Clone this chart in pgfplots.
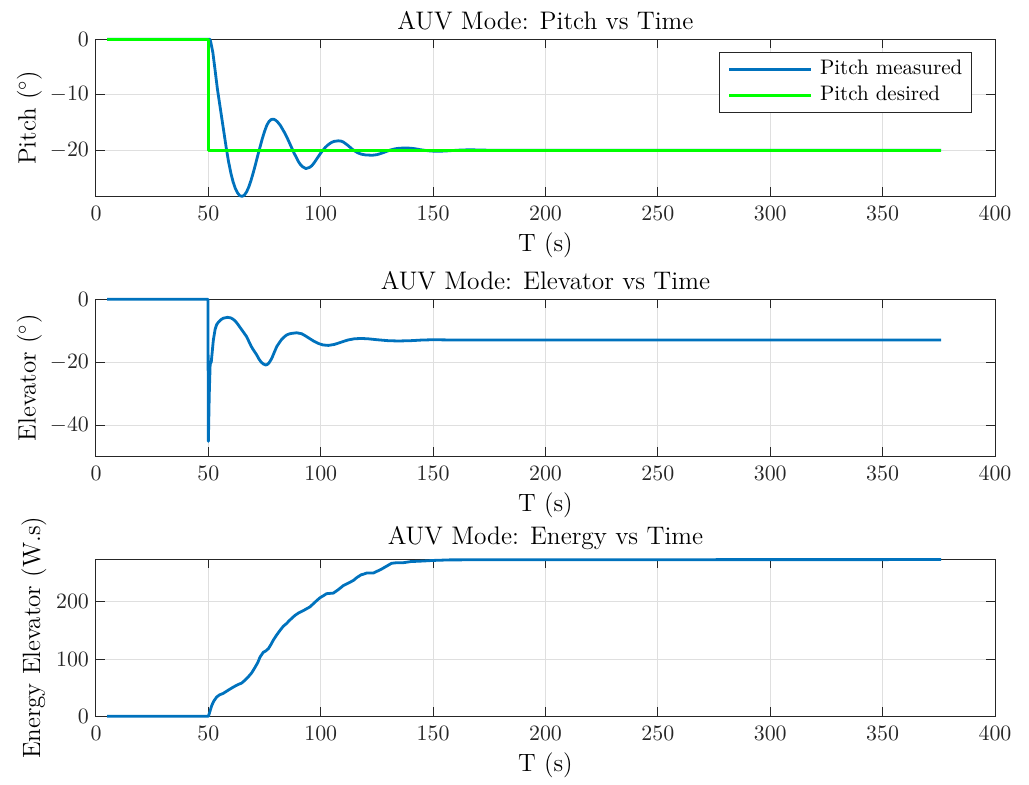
\documentclass[border=0pt]{standalone}
\usepackage{pgfplots}
\pgfplotsset{compat=1.18}

\definecolor{mblue}{rgb}{0,0.447,0.741}
\definecolor{mgreen}{rgb}{0,1,0}
\definecolor{axgray}{rgb}{0.15,0.15,0.15}
\definecolor{gridgray}{rgb}{0.875,0.875,0.875}

\pgfplotsset{
  every axis title shift=0pt,
  auvaxis/.style={
    scale only axis, width=449.5pt, height=78.5pt,
    xmin=0, xmax=400, xtick={0,50,...,400},
    axis line style={axgray, line width=0.5pt},
    tick style={axgray, line width=0.5pt},
    major tick length=4.5pt,
    tick align=inside, tick pos=both,
    grid=major,
    major grid style={gridgray, line width=0.5pt},
    tick label style={font=\fontsize{11.3}{13}\selectfont, text=axgray},
    xticklabel style={yshift=-1.75pt},
    label style={font=\fontsize{12.5}{15}\selectfont, text=black},
    title style={font=\fontsize{12.7}{15}\selectfont, at={(0.5,1)}, anchor=south, inner sep=0pt, yshift=4.5pt},
    xlabel={T (s)},
    xlabel style={at={(axis description cs:0.5,0)}, anchor=center, yshift=-24.5pt},
    clip=false,
    every axis plot/.append style={line width=1.4pt, line join=round},
  },
}

\begin{document}
\begin{tikzpicture}
\path[use as bounding box] (-48pt,19.65pt) rectangle (466.5pt,-372.85pt);

% ---------------- pitch ----------------
\begin{axis}[auvaxis, at={(0pt,0pt)}, anchor=north west,
  ymin=-28.3, ymax=0, ytick={-20,-10,0},
  title={AUV Mode: Pitch vs Time},
  ylabel={Pitch ($^\circ$)},
  ylabel style={at={(axis description cs:-0.074,0.5)}, anchor=center},
  legend style={at={(axis description cs:1,1)}, xshift=-11.65pt, yshift=-6.2pt,
    anchor=north east, draw=axgray, line width=0.5pt,
    font=\fontsize{10.5}{12}\selectfont,
    inner xsep=4.15pt, inner ysep=2pt, column sep=3.3pt, row sep=0pt,
    nodes={inner xsep=0.3pt, inner ysep=0pt, text height=9.35pt, text depth=3.65pt},
    cells={anchor=west}},
  legend image code/.code={\draw[#1] (0pt,0pt) -- (41pt,0pt);},
]
\addplot[mblue] table {
t p
5 0
50 0
50.7 0
51 -0.4
52 -2.4
53 -5.6
54 -8.9
55 -11.6
56 -14.3
57 -17.0
58 -19.7
59 -22.1
60 -24.1
61 -25.7
62 -26.9
63 -27.7
64 -28.2
65 -28.3
66 -28.1
67 -27.5
68 -26.6
69 -25.4
70 -24.0
71 -22.5
72 -20.9
73 -19.4
74 -17.9
75 -16.6
76 -15.5
77 -14.8
78 -14.45
79 -14.4
80 -14.6
81 -15.0
82 -15.5
83 -16.2
84 -16.9
85 -17.7
86 -18.6
87 -19.5
88 -20.4
89 -21.2
90 -22.0
91 -22.6
92 -23.0
93.4 -23.3
95 -23.1
96 -22.8
97 -22.3
98 -21.7
99 -21.1
100 -20.5
101 -20.0
102 -19.5
103 -19.1
104 -18.8
105 -18.55
106 -18.4
107.8 -18.3
109 -18.35
110 -18.5
111 -18.8
112 -19.1
113 -19.45
114 -19.8
115 -20.1
116 -20.35
117 -20.55
118 -20.7
120 -20.85
123 -20.9
125 -20.8
127 -20.55
129 -20.25
131 -19.95
133 -19.75
135 -19.63
138 -19.6
140 -19.63
142 -19.73
144 -19.88
146 -20.0
148 -20.1
150 -20.16
153 -20.18
156 -20.12
159 -20.04
162 -19.97
165 -19.93
168 -19.93
172 -19.97
176 -20.0
185 -20.02
200 -20.0
376 -20.0
};
\addlegendentry{Pitch measured}
\addplot[mgreen] table {
t p
5 0
50 0
50 -20
376 -20
};
\addlegendentry{Pitch desired}
\end{axis}

% ---------------- elevator ----------------
\begin{axis}[auvaxis, at={(0pt,-130pt)}, anchor=north west,
  ymin=-49.7, ymax=0, ytick={-40,-20,0},
  title={AUV Mode: Elevator vs Time},
  ylabel={Elevator ($^\circ$)},
  ylabel style={at={(axis description cs:-0.074,0.5)}, anchor=center},
]
\addplot[mblue] table {
t e
5 0
49.8 0
50.0 -45
50.4 -30
50.8 -20.5
51.3 -19.8
51.8 -16
52.2 -13
53 -9.5
53.7 -8.0
54.4 -7.3
55.5 -6.5
56.6 -6.0
58.5 -5.7
60 -5.9
61 -6.3
62 -6.9
63 -7.8
64 -8.8
65 -9.8
66 -10.8
67 -11.8
68 -13.3
69 -14.8
70 -16.0
71.5 -17.6
72.5 -18.9
73.5 -19.9
74.5 -20.5
75.5 -20.8
76.3 -20.6
77 -20.1
77.8 -19.2
78.5 -18.2
79.5 -16.5
80.4 -15.0
81.5 -13.8
82.5 -12.8
83.6 -12.0
84.8 -11.3
86 -10.95
87 -10.8
89.3 -10.6
91.5 -10.9
93 -11.5
95 -12.4
97 -13.3
99 -14.0
101 -14.45
103.4 -14.6
106 -14.3
109 -13.6
112 -12.9
115 -12.5
118 -12.4
121 -12.5
125 -12.8
130 -13.1
134.5 -13.2
140 -13.1
145 -12.9
150 -12.8
160 -12.9
200 -12.9
376 -12.9
};
\end{axis}

% ---------------- energy ----------------
\begin{axis}[auvaxis, at={(0pt,-260pt)}, anchor=north west,
  ymin=0, ymax=274, ytick={0,100,200},
  title={AUV Mode: Energy vs Time},
  ylabel={Energy Elevator (W.s)},
  ylabel style={at={(axis description cs:-0.069,0.5)}, anchor=center},
]
\addplot[mblue] table {
t w
5 0
50 0
50.5 6
51.5 19
52.5 27
53.7 33.7
55 37.5
56.6 40
59 46
61.1 51
63 55
64.8 58
66.3 63
67.8 69
69.3 76
70.7 85
72 94
73 103.5
74.5 112
75.5 114
76.7 118
77.8 125
78.9 133
80.4 142
81.9 150
83.3 157
84.8 162
86 167
87.1 171
88.5 176
90 180
92.5 185
95.2 191
96.3 195
97.4 199
98.5 203
99.7 207
101 210
102.6 214
104 214.5
105.6 215
107.8 221
110 228
112 232
114.5 237
116 242
118 247
119 248
120.4 250
123.4 250
125 253
127.1 257
129.3 262
131.5 267
133.7 268
136.7 268
140 270
145.6 271
150 272
157.5 273
200 273.3
376 273.5
};
\end{axis}
\end{tikzpicture}
\end{document}
